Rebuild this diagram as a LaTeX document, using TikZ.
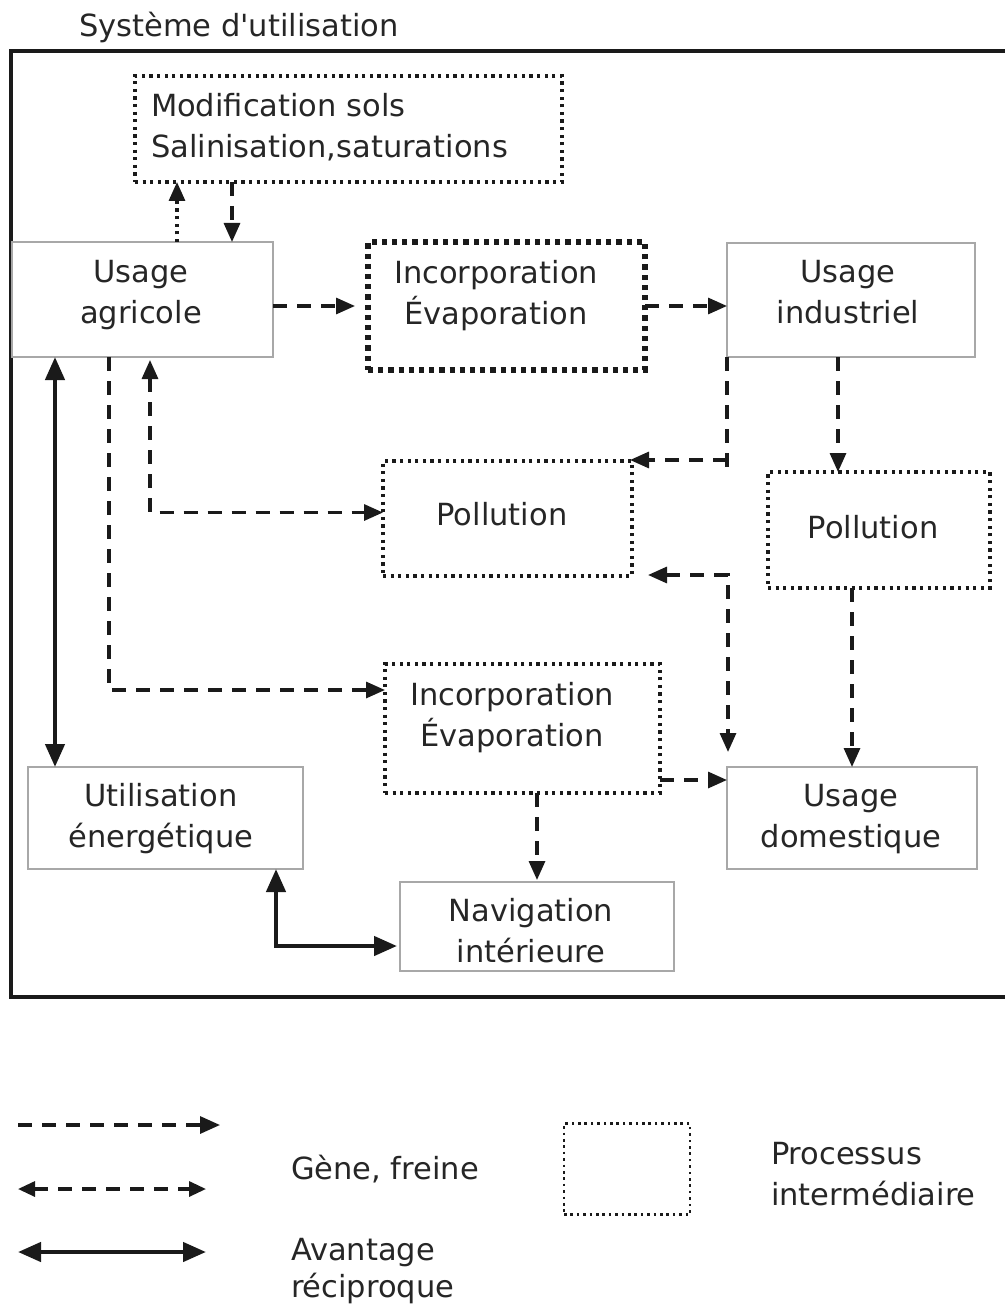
\documentclass[tikz,border=0pt]{standalone}
\usepackage{fontspec}
\setmainfont{DejaVu Sans}[Ligatures=TeXOff]
\usetikzlibrary{arrows.meta,calc}
\definecolor{ink}{HTML}{1A1A1A}
\definecolor{txtc}{HTML}{262626}
\definecolor{boxgray}{HTML}{A8A8A8}
\begin{document}
\begin{tikzpicture}[x=1pt,y=-1pt,
  txt/.style={font=\fontsize{30.5}{41}\selectfont, text=txtc, inner sep=0pt, outer sep=0pt, align=center},
  solidbox/.style={draw=boxgray, line width=1.6pt, inner sep=0pt, outer sep=0pt},
  procbox/.style={draw=ink, line width=3.2pt, dash pattern=on 3.2pt off 4.4pt, inner sep=0pt, outer sep=0pt},
  thickproc/.style={draw=ink, line width=5.2pt, dash pattern=on 5.2pt off 5pt, inner sep=0pt, outer sep=0pt},
  frame/.style={draw=ink, line width=3.2pt, inner sep=0pt, outer sep=0pt},
  dashline/.style={draw=ink, line width=3.2pt, dash pattern=on 14pt off 10pt},
  tipA/.tip={Triangle[length=19pt,width=16pt]},
  tipB/.tip={Triangle[length=23pt,width=19pt]},
  dasharrow/.style={dashline, -tipA},
  dashboth/.style={dashline, tipA-tipA},
  dotarrow/.style={draw=ink, line width=3.2pt, dash pattern=on 3.2pt off 4.4pt, -tipA},
  thickboth/.style={draw=ink, line width=4.4pt, tipB-tipB}
]
\useasboundingbox (0,0) rectangle (1004,1305);

% outer frame and title
\node[frame, minimum width=999pt, minimum height=946pt] (sys) at (510.5,524) {};
\node[txt, anchor=base west] (title) at (79,37) {Système d'utilisation};

% boxes
\node[procbox, minimum width=427pt, minimum height=106pt] (mod) at (348.5,129) {};
\node[solidbox, minimum width=261pt, minimum height=115pt] (agri) at (142.5,299.5) {};
\node[thickproc, minimum width=277pt, minimum height=128pt] (inc1) at (506.5,306) {};
\node[solidbox, minimum width=248pt, minimum height=114pt] (ind) at (851,300) {};
\node[procbox, minimum width=249pt, minimum height=115pt] (pol1) at (507.5,518.5) {};
\node[procbox, minimum width=222pt, minimum height=116pt] (pol2) at (879,530) {};
\node[procbox, minimum width=275pt, minimum height=129pt] (inc2) at (522.5,728.5) {};
\node[solidbox, minimum width=275pt, minimum height=102pt] (ener) at (165.5,818) {};
\node[solidbox, minimum width=250pt, minimum height=102pt] (dom) at (852,818) {};
\node[solidbox, minimum width=274pt, minimum height=89pt] (nav) at (537,926.5) {};

% texts
\node[txt, align=left, anchor=west] (modt) at (151,129.3) {\strut Modification sols\\\strut Salinisation,saturations};
\node[txt] (agrit) at (141,294.8) {\strut Usage\\\strut agricole};
\node[txt] (inc1t) at (496,295.8) {\strut Incorporation\\\strut Évaporation};
\node[txt] (indt) at (848,294.8) {\strut Usage\\\strut industriel};
\node[txt] (pol1t) at (502,516.8) {\strut Pollution};
\node[txt] (pol2t) at (873,529.8) {\strut Pollution};
\node[txt] (inc2t) at (512,717.8) {\strut Incorporation\\\strut Évaporation};
\node[txt] (enert) at (161,818.3) {\strut Utilisation\\\strut énergétique};
\node[txt] (domt) at (851,818.3) {\strut Usage\\\strut domestique};
\node[txt] (navt) at (531,933.3) {\strut Navigation\\\strut intérieure};

% connectors
\draw[dotarrow] ($(agri.north west)+(165,0)$) -- ($(mod.south west)+(42,0)$);
\draw[dasharrow] ($(mod.south west)+(97,0)$) -- ($(agri.north west)+(220,0)$);
\draw[dasharrow, shorten >=13pt] (agri.east |- inc1.west) -- (inc1.west);
\draw[dasharrow] (inc1.east) -- (inc1.east -| ind.west);
\draw[dashline] (ind.south west) -- ++(0,115);
\coordinate (j1) at ($(ind.south west)+(0,103)$);
\draw[dasharrow, shorten >=-2pt] (j1) -- (j1 -| pol1.east);
\draw[dasharrow] ($(ind.south west)+(111,0)$) -- ($(pol2.north west)+(70,0)$);
\draw[dasharrow] (dom.north |- pol2.south) -- (dom.north);
\coordinate (j2) at ($(pol1.west)+(0,-6)$);
\draw[dashboth] ($(agri.south west)+(138,3)$) |- (j2);
\coordinate (j3) at ($(inc2.west)+(0,-38.5)$);
\draw[dasharrow] ($(agri.south west)+(97,0)$) |- (j3);
\draw[dashboth] ($(pol1.south east)+(16,-1)$) -| ($(dom.north west)+(1,-15)$);
\coordinate (j4) at ($(inc2.south east)+(0,-13)$);
\draw[dasharrow] (j4) -- (j4 -| dom.west);
\draw[dasharrow, shorten >=2pt] (nav.north |- inc2.south) -- (nav.north);
\draw[thickboth] ($(agri.south west)+(43,0)$) -- ($(ener.north west)+(27,0)$);
\draw[thickboth] ($(ener.south west)+(248,0)$) |- ($(nav.west)+(-3,19.5)$);

% legend
\coordinate (l1a) at (18,1125);
\coordinate (l1b) at (220,1125);
\draw[dashline, -{Triangle[length=20pt,width=17pt]}] (l1a) -- (l1b);
\coordinate (l2a) at (18,1189);
\coordinate (l2b) at (206,1189);
\draw[dashline, {Triangle[length=17pt,width=15pt]}-{Triangle[length=17pt,width=15pt]}] (l2a) -- (l2b);
\coordinate (l3a) at (18,1252);
\coordinate (l3b) at (206,1252);
\draw[thickboth] (l3a) -- (l3b);
\node[procbox, line width=2.6pt, dash pattern=on 2.6pt off 3.8pt, minimum width=126pt, minimum height=91pt] (legbox) at (627,1169) {};
\node[txt, anchor=base west] (leg1) at (291,1179) {Gène, freine};
\node[txt, anchor=base west] (leg2) at (291,1260) {Avantage};
\node[txt, anchor=base west] (leg3) at (291,1297) {réciproque};
\node[txt, anchor=base west] (leg4) at (771,1164) {Processus};
\node[txt, anchor=base west] (leg5) at (771,1205) {intermédiaire};
\end{tikzpicture}
\end{document}
